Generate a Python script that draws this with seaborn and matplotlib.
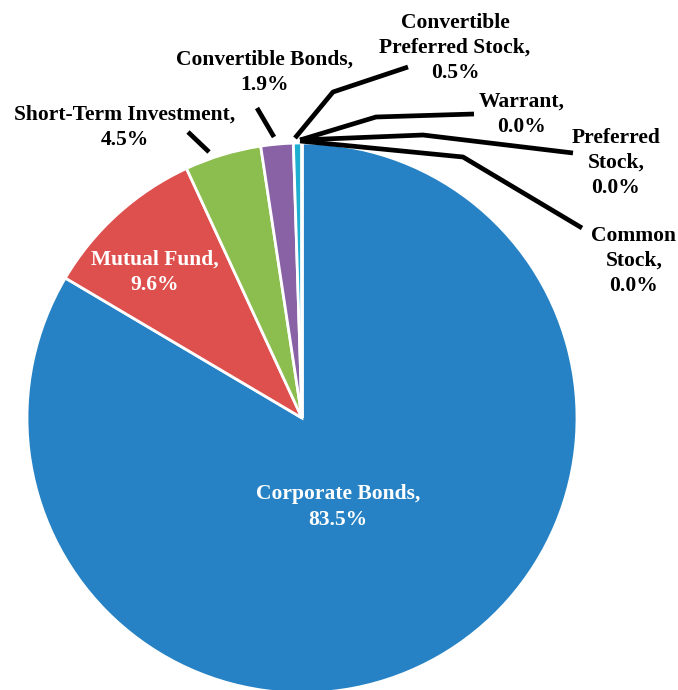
import matplotlib
matplotlib.use("Agg")
import matplotlib.pyplot as plt
import seaborn as sns

# Portfolio allocation by security type
categories = ["Corporate Bonds", "Mutual Fund", "Short-Term Investment",
              "Convertible Bonds", "Convertible Preferred Stock", "Warrant",
              "Preferred Stock", "Common Stock"]
weights = [83.5, 9.6, 4.5, 1.9, 0.5, 0.0, 0.0, 0.0]
colors = ["#2682C4", "#DE504D", "#8CBE4F", "#8962A6", "#1EAFD0",
          "#4C8C3A", "#B3A33F", "#6F6F6F"]

# Label text, as printed on the chart
label_text = ["Corporate Bonds,", "Mutual Fund,", "Short-Term Investment,",
              "Convertible Bonds,", "Convertible\nPreferred Stock,", "Warrant,",
              "Preferred\nStock,", "Common\nStock,"]

sns.set_theme(style="white")
plt.rcParams["font.family"] = ["Liberation Serif", "DejaVu Serif"]

W, H = 678, 690
fig = plt.figure(figsize=(W / 100, H / 100), dpi=100)
ax = fig.add_axes([0, 0, 1, 1])


def px(x, y):
    """Convert top-left pixel position to axes data coordinates."""
    return x, H - y


cx, cy = px(302, 418)
ax.pie(weights, colors=colors, startangle=90, counterclock=False,
       center=(cx, cy), radius=275,
       wedgeprops=dict(edgecolor="white", linewidth=2))

ax.set_xlim(0, W)
ax.set_ylim(0, H)
ax.set_aspect("equal")
ax.axis("off")

font = dict(fontsize=15.5, fontweight="bold", ha="center", va="center",
            linespacing=1.35)


def label(i, x, y, color="black"):
    ax.text(*px(x, y), f"{label_text[i]}\n{weights[i]:.1f}%", color=color, **font)


# Labels inside the pie
label(0, 338, 507, "white")
label(1, 155, 272, "white")
# Labels outside the pie
label(2, 125, 127)
label(3, 265, 72)
label(4, 455, 48)
label(5, 522, 114)
label(6, 616, 163)
label(7, 634, 261)

# Leader lines
leaders = [
    [(188, 132), (209, 152)],
    [(257, 108), (274, 137)],
    [(295, 138), (333, 92), (408, 67)],
    [(300, 140), (376, 117), (474, 114)],
    [(300, 140), (423, 135), (573, 153)],
    [(300, 141), (463, 157), (582, 228)],
]
for pts in leaders:
    xs, ys = zip(*[px(x, y) for x, y in pts])
    ax.plot(xs, ys, color="black", linewidth=3.4, solid_capstyle="butt")

fig.savefig("out.png", dpi=100, facecolor="white")
